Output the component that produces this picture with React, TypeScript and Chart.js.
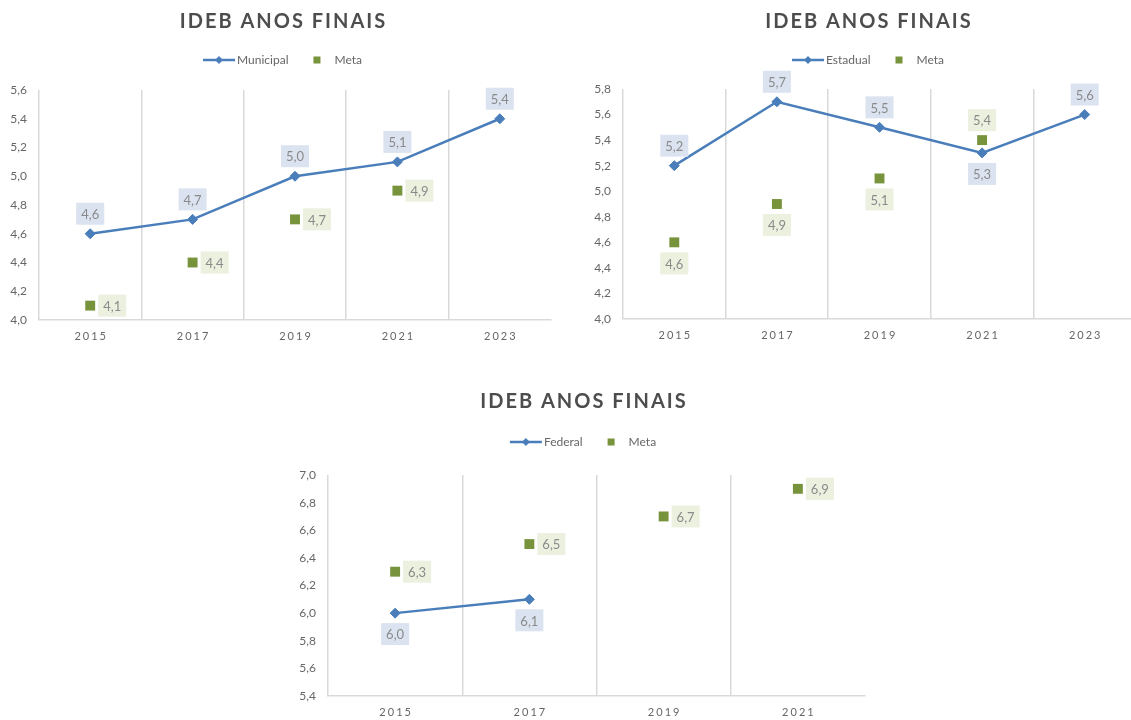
import React, { useEffect, useRef } from 'react';
import { Chart, registerables } from 'chart.js';
Chart.register(...registerables);

const TITLE = 'IDEB ANOS FINAIS';

const yearsMunicipal = ['2015', '2017', '2019', '2021', '2023'];
const municipal = [4.6, 4.7, 5.0, 5.1, 5.4];
const metaMunicipal = [4.1, 4.4, 4.7, 4.9, null];

const yearsEstadual = ['2015', '2017', '2019', '2021', '2023'];
const estadual = [5.2, 5.7, 5.5, 5.3, 5.6];
const metaEstadual = [4.6, 4.9, 5.1, 5.4, null];

const yearsFederal = ['2015', '2017', '2019', '2021'];
const federal = [6.0, 6.1, null, null];
const metaFederal = [6.3, 6.5, 6.7, 6.9];

const BLUE = '#4a7ebb';
const GREEN = '#77933c';
const BLUE_BOX = '#dbe3f0';
const GREEN_BOX = '#ebf0df';
const TITLE_COLOR = '#4d4d4d';
const TEXT = '#666666';
const LABEL_TEXT = '#8a8a8a';
const GRID = '#d9d9d9';
const FONT = 'Lato, "Open Sans", sans-serif';

const fmt = (v: number) => v.toFixed(1).replace('.', ',');

const decorPlugin = {
  id: 'decor',
  afterDraw(chart: any, _args: any, opts: any) {
    const { ctx, chartArea } = chart;
    const W = chart.width;
    ctx.save();
    // Title
    ctx.font = `bold 20px ${FONT}`;
    (ctx as any).letterSpacing = '2px';
    ctx.fillStyle = TITLE_COLOR;
    ctx.textAlign = 'center';
    ctx.textBaseline = 'middle';
    ctx.fillText(TITLE, W / 2 + 1, opts.titleY);

    // Legend
    (ctx as any).letterSpacing = '0px';
    ctx.font = `12px ${FONT}`;
    const ds = chart.data.datasets;
    const l1 = ds[0].label;
    const l2 = ds[1].label;
    const w1 = ctx.measureText(l1).width;
    const w2 = ctx.measureText(l2).width;
    const total = 32 + 2 + w1 + 25 + 7 + 14 + w2;
    const x = W / 2 - total / 2;
    const y = opts.legendY;
    ctx.strokeStyle = BLUE;
    ctx.lineWidth = 2.5;
    ctx.beginPath();
    ctx.moveTo(x, y);
    ctx.lineTo(x + 32, y);
    ctx.stroke();
    ctx.fillStyle = BLUE;
    ctx.beginPath();
    ctx.moveTo(x + 16, y - 4);
    ctx.lineTo(x + 20, y);
    ctx.lineTo(x + 16, y + 4);
    ctx.lineTo(x + 12, y);
    ctx.closePath();
    ctx.fill();
    ctx.fillStyle = TEXT;
    ctx.textAlign = 'left';
    ctx.fillText(l1, x + 34, y);
    const x2 = x + 34 + w1 + 25;
    ctx.fillStyle = GREEN;
    ctx.fillRect(x2, y - 3.5, 7, 7);
    ctx.fillStyle = TEXT;
    ctx.fillText(l2, x2 + 21, y);

    // X labels with letter spacing
    const xs = chart.scales.x;
    ctx.font = `11px ${FONT}`;
    (ctx as any).letterSpacing = '2px';
    ctx.fillStyle = TEXT;
    ctx.textAlign = 'center';
    chart.data.labels.forEach((lab: string, i: number) => {
      ctx.fillText(lab, xs.getPixelForTick(i) + 1, chartArea.bottom + 16);
    });
    (ctx as any).letterSpacing = '0px';

    // Data labels
    ctx.font = `13px ${FONT}`;
    ds.forEach((d: any, di: number) => {
      const meta = chart.getDatasetMeta(di);
      const positions: string[] = opts.labelPos[di];
      meta.data.forEach((pt: any, i: number) => {
        const v = d.data[i];
        if (v === null || v === undefined) return;
        const txt = fmt(v);
        const tw = ctx.measureText(txt).width;
        const bw = tw + 10;
        const bh = 22;
        let cx = pt.x;
        let cy = pt.y;
        const p = positions[i];
        if (p === 'above') cy -= 20;
        else if (p === 'below') cy += 21;
        else if (p === 'right') cx += 22;
        ctx.fillStyle = di === 0 ? BLUE_BOX : GREEN_BOX;
        ctx.fillRect(cx - bw / 2, cy - bh / 2, bw, bh);
        ctx.fillStyle = LABEL_TEXT;
        ctx.textAlign = 'center';
        ctx.textBaseline = 'middle';
        ctx.fillText(txt, cx, cy + 1);
      });
    });
    ctx.restore();
  },
};

type Cfg = {
  left: number;
  top: number;
  width: number;
  height: number;
  labels: string[];
  main: (number | null)[];
  meta: (number | null)[];
  mainLabel: string;
  yMin: number;
  yMax: number;
  padTop: number;
  padRight: number;
  yWidth: number;
  xHeight: number;
  titleY: number;
  legendY: number;
  labelPos: string[][];
};

function IdebChart(props: Cfg) {
  const ref = useRef<HTMLCanvasElement>(null);
  useEffect(() => {
    if (!ref.current) return;
    const chart = new Chart(ref.current, {
      type: 'line',
      data: {
        labels: props.labels,
        datasets: [
          {
            label: props.mainLabel,
            data: props.main,
            borderColor: BLUE,
            backgroundColor: BLUE,
            borderWidth: 2.5,
            pointStyle: 'rectRot',
            pointRadius: 5,
            pointBackgroundColor: BLUE,
            pointBorderColor: BLUE,
            pointBorderWidth: 1,
            spanGaps: false,
            tension: 0,
          },
          {
            label: 'Meta',
            data: props.meta,
            showLine: false,
            borderColor: GREEN,
            backgroundColor: GREEN,
            pointStyle: 'rect',
            pointRadius: 7,
            pointBackgroundColor: GREEN,
            pointBorderColor: GREEN,
            pointBorderWidth: 0,
          },
        ],
      },
      options: {
        animation: false,
        responsive: false,
        events: [],
        layout: { padding: { top: props.padTop, right: props.padRight, left: 0, bottom: 0 } },
        plugins: {
          legend: { display: false },
          title: { display: false },
          tooltip: { enabled: false },
          decor: { titleY: props.titleY, legendY: props.legendY, labelPos: props.labelPos },
        } as any,
        scales: {
          x: {
            type: 'category',
            offset: true,
            grid: {
              offset: true,
              drawTicks: false,
              lineWidth: 1.5,
              color: (c: any) => (c.type === 'tick' ? GRID : 'rgba(0,0,0,0)'),
            },
            border: { display: true, color: GRID, width: 1.5 },
            ticks: { display: false },
            afterFit: (s: any) => {
              s.height = props.xHeight;
            },
          },
          y: {
            type: 'linear',
            min: props.yMin,
            max: props.yMax,
            grid: { display: false, drawTicks: false },
            border: { display: false },
            ticks: {
              stepSize: 0.2,
              padding: 12,
              color: TEXT,
              font: { family: FONT, size: 12 },
              callback: (v: any) => fmt(Number(v)),
            },
            afterFit: (s: any) => {
              s.width = props.yWidth;
            },
          },
        },
      },
      plugins: [decorPlugin],
    });
    return () => chart.destroy();
  }, []);
  return (
    <div style={{ position: 'absolute', left: props.left, top: props.top, width: props.width, height: props.height }}>
      <canvas ref={ref} width={props.width} height={props.height} />
    </div>
  );
}

export default function App() {
  return (
    <div
      style={{
        position: 'fixed',
        left: 0,
        top: 0,
        width: 1131,
        height: 720,
        overflow: 'hidden',
        background: '#fff',
      }}
    >
      <IdebChart
        left={0}
        top={0}
        width={565}
        height={350}
        labels={yearsMunicipal}
        main={municipal}
        meta={metaMunicipal}
        mainLabel="Municipal"
        yMin={4.0}
        yMax={5.6}
        padTop={90}
        padRight={14}
        yWidth={39}
        xHeight={30}
        titleY={22}
        legendY={60}
        labelPos={[
          ['above', 'above', 'above', 'above', 'above'],
          ['right', 'right', 'right', 'right', 'right'],
        ]}
      />
      <IdebChart
        left={585}
        top={0}
        width={566}
        height={350}
        labels={yearsEstadual}
        main={estadual}
        meta={metaEstadual}
        mainLabel="Estadual"
        yMin={4.0}
        yMax={5.8}
        padTop={89}
        padRight={15}
        yWidth={38}
        xHeight={31}
        titleY={22}
        legendY={60}
        labelPos={[
          ['above', 'above', 'above', 'below', 'above'],
          ['below', 'below', 'below', 'above', 'below'],
        ]}
      />
      <IdebChart
        left={280}
        top={380}
        width={606}
        height={340}
        labels={yearsFederal}
        main={federal}
        meta={metaFederal}
        mainLabel="Federal"
        yMin={5.4}
        yMax={7.0}
        padTop={95}
        padRight={21}
        yWidth={48}
        xHeight={24}
        titleY={22}
        legendY={62}
        labelPos={[
          ['below', 'below', 'below', 'below'],
          ['right', 'right', 'right', 'right'],
        ]}
      />
    </div>
  );
}
